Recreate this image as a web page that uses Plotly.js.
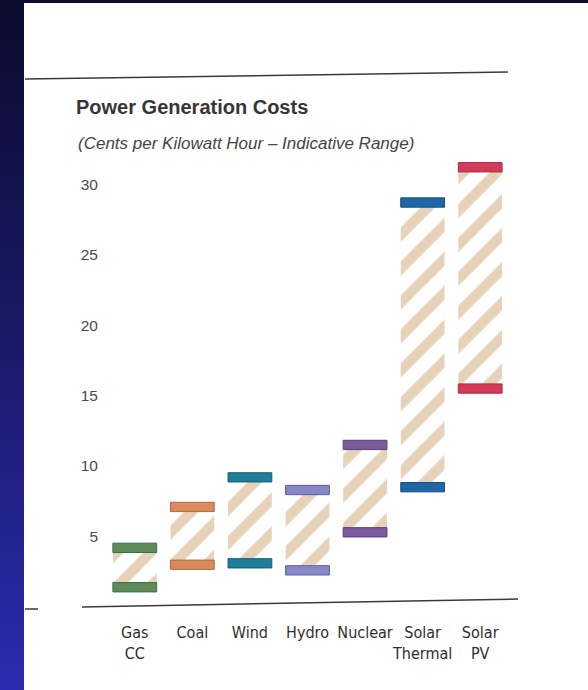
<!DOCTYPE html>
<html>
<head>
<meta charset="utf-8">
<script src="https://cdn.plot.ly/plotly-3.0.1.min.js"></script>
<style>
  html, body { margin: 0; padding: 0; background: #ffffff; }
  #strip { position: absolute; left: 0; top: 0; width: 24px; height: 690px;
           background: linear-gradient(to bottom, #0b0b2e 0%, #1a1a6a 50%, #2b2bb0 100%); }
  #band { position: absolute; left: 0; top: 0; width: 588px; height: 3px; background: #0c0c30; }
  #chart { position: absolute; left: 0; top: 0; width: 588px; height: 690px; }
</style>
</head>
<body>
<div id="strip"></div>
<div id="band"></div>
<div id="chart"></div>
<script>
// ---- data (cents per kWh, indicative range) ----
const categories = ["Gas<br>CC", "Coal", "Wind", "Hydro", "Nuclear", "Solar<br>Thermal", "Solar<br>PV"];
const lowCost  = [1.4, 3.0, 3.1, 2.6, 5.3, 8.5, 15.5];
const highCost = [4.2, 7.1, 9.2, 8.3, 11.5, 28.7, 31.2];
const yTicks = [5, 10, 15, 20, 25, 30];
const capColors = ["#5f8c5b", "#d98b5c", "#1f7d97", "#8787c8", "#7d5b9d", "#1f66a6", "#d43b5b"];
const capEdge   = ["#3f6a40", "#b0683c", "#15607a", "#5c5ca0", "#5a3e78", "#154c80", "#a82a44"];

// ---- layout geometry (pixels) ----
const W = 588, H = 690;
const mL = 106, mR = 79, mT = 156, mB = 83;
const pw = W - mL - mR, ph = H - mT - mB;
const px = x => (x - mL) / pw;
const py = y => (H - mB - y) / ph;

const CAP = 0.66;
const span = highCost.map((h, i) => h - lowCost[i]);

const hatch = {
  type: "bar", x: categories, y: span, base: lowCost, width: 0.76,
  marker: { color: "#ffffff", line: { width: 0 },
            pattern: { shape: "/", fgcolor: "#e5d2b8", bgcolor: "#ffffff", size: 24, solidity: 0.42 } },
  hoverinfo: "skip", showlegend: false
};
const capHigh = {
  type: "bar", x: categories, y: highCost.map(() => CAP), base: highCost.map(v => v - CAP / 2), width: 0.76,
  marker: { color: capColors, line: { color: capEdge, width: 1 } }, showlegend: false
};
const capLow = {
  type: "bar", x: categories, y: lowCost.map(() => CAP), base: lowCost.map(v => v - CAP / 2), width: 0.76,
  marker: { color: capColors, line: { color: capEdge, width: 1 } }, showlegend: false
};

const layout = {
  width: W, height: H,
  margin: { l: mL, r: mR, t: mT, b: mB },
  paper_bgcolor: "rgba(0,0,0,0)", plot_bgcolor: "rgba(0,0,0,0)",
  barmode: "overlay",
  font: { family: "Liberation Sans, Arial, sans-serif", color: "#333" },
  title: {
    text: "Power Generation Costs",
    font: { family: "Liberation Sans, Arial, sans-serif", size: 20, color: "#363636", weight: "bold" },
    xref: "container", yref: "container", x: 76 / W, xanchor: "left", y: 1 - 107 / H, yanchor: "middle"
  },
  xaxis: {
    type: "category", showgrid: false, zeroline: false, showline: false, ticks: "", tickangle: 0,
    tickfont: { family: "Liberation Sans Narrow, DejaVu Sans Condensed, Arial Narrow, sans-serif", size: 16, color: "#2e2e2e" },
    ticklabelstandoff: 14, fixedrange: true
  },
  yaxis: {
    range: [0, 32], tickvals: yTicks, showgrid: false, zeroline: false, showline: false, ticks: "",
    tickfont: { family: "Liberation Sans, Arial, sans-serif", size: 15.5, color: "#4a4a4a" },
    ticklabelstandoff: 7, fixedrange: true
  },
  annotations: [{
    text: "(Cents per Kilowatt Hour – Indicative Range)",
    xref: "paper", yref: "paper", x: px(76), y: py(143), xanchor: "left", yanchor: "middle",
    showarrow: false, font: { family: "Liberation Sans, Arial, sans-serif", size: 17, color: "#444", style: "italic" }
  }],
  shapes: [
    { type: "line", xref: "paper", yref: "paper", x0: px(25), y0: py(79), x1: px(508), y1: py(72),
      line: { color: "#3a3a3a", width: 1.5 } },
    { type: "line", xref: "paper", yref: "paper", x0: px(25), y0: py(609), x1: px(38), y1: py(609),
      line: { color: "#3a3a3a", width: 1.5 } },
    { type: "line", xref: "paper", yref: "paper", x0: px(82), y0: py(607), x1: px(518), y1: py(599),
      line: { color: "#3a3a3a", width: 1.5 } }
  ]
};

Plotly.newPlot("chart", [hatch, capHigh, capLow], layout, { displayModeBar: false, staticPlot: true });
</script>
</body>
</html>
